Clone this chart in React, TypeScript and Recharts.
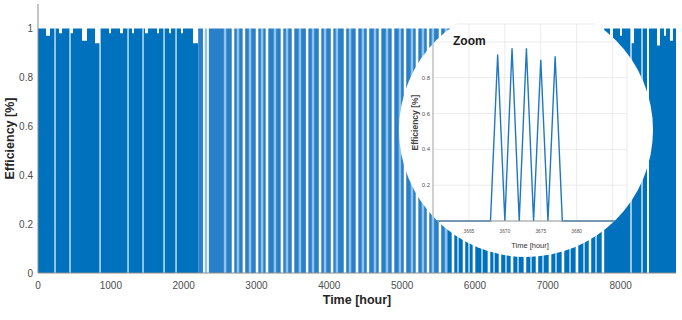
import React from 'react';
import { ComposedChart, Area, LineChart, Line, XAxis, YAxis, CartesianGrid, Label } from 'recharts';

// ---- full-year trace, hours ----
const yearSpan = [0, 8760];
const hourTicks = [0, 1000, 2000, 3000, 4000, 5000, 6000, 7000, 8000];
const effTicks = [0, 0.2, 0.4, 0.6, 0.8, 1];

// short stretches where the peak stays under 1
const dipStart = [110, 288, 439, 604, 783, 975, 1126, 1291, 1469, 1634, 1799, 1963, 2128, 7854, 7991, 8142, 8499, 8595, 8677];
const dipEnd = [165, 330, 481, 673, 851, 1002, 1167, 1318, 1510, 1661, 1826, 1991, 2197, 7895, 8018, 8183, 8540, 8622, 8718];
const dipLevel = [0.97, 0.98, 0.98, 0.95, 0.94, 0.98, 0.98, 0.98, 0.98, 0.98, 0.98, 0.98, 0.94, 0.94, 0.97, 0.94, 0.93, 0.97, 0.95];

// off periods (efficiency 0)
const gapStart = [2265, 2322, 2660, 2810, 2990, 3126, 3332, 3484, 3678, 3855, 4020, 4198, 4362, 4514, 4678, 4856, 5022, 5186, 5338, 5502, 5680, 5832, 5968, 6174, 6326, 6490, 6668, 6834, 7012, 7190, 7382, 7562, 7740, 8362];
const gapEnd = [2290, 2346, 2695, 2845, 3025, 3162, 3368, 3519, 3712, 3890, 4055, 4232, 4398, 4548, 4714, 4892, 5056, 5222, 5372, 5536, 5716, 5866, 6004, 6210, 6360, 6526, 6704, 6868, 7048, 7226, 7418, 7596, 7774, 8389];

// sparse stretches (lighter shade)
const paleStart = [226, 432, 844, 1229, 1435, 1723, 1888, 2290, 2553, 2731, 2896, 3061, 3239, 3404, 3582, 3761, 3926, 4090, 4269, 4447, 4612, 4777, 4955, 5120, 5271, 5408, 5587, 5754, 5905, 6083, 6248, 6413, 6577, 6756, 6921, 7099, 7291, 7483, 7648, 8132, 8283];
const paleEnd = [242, 448, 860, 1245, 1451, 1739, 1904, 2322, 2583, 2761, 2926, 3091, 3269, 3434, 3612, 3791, 3956, 4120, 4299, 4477, 4642, 4807, 4985, 5150, 5301, 5438, 5617, 5780, 5931, 6109, 6274, 6439, 6603, 6782, 6947, 7125, 7317, 7509, 7674, 8152, 8303];

// medium density period
const midStart = [2200];
const midEnd = [5620];

// ---- zoom window ----
const zoomHours = [3660, 3661, 3662, 3663, 3664, 3665, 3666, 3667, 3668, 3669, 3670, 3671, 3672, 3673, 3674, 3675, 3676, 3677, 3678, 3679, 3680, 3681, 3682, 3683, 3684, 3685, 3686, 3687];
const zoomEff = [0, 0, 0, 0, 0, 0, 0, 0, 0, 0.93, 0, 0.965, 0, 0.965, 0, 0.9, 0, 0.92, 0, 0, 0, 0, 0, 0, 0, 0, 0, 0];
const zoomTicks = [3660, 3665, 3670, 3675, 3680, 3685];

const findIn = (h: number, s: number[], e: number[]) => s.findIndex((v, i) => h >= v && h < e[i]);

const cuts = Array.from(
  new Set([...yearSpan, ...dipStart, ...dipEnd, ...gapStart, ...gapEnd, ...paleStart, ...paleEnd, ...midStart, ...midEnd])
).sort((a, b) => a - b);

const yearRows = cuts.map((t, i) => {
  const m = i < cuts.length - 1 ? (t + cuts[i + 1]) / 2 : t - 0.5;
  const d = findIn(m, dipStart, dipEnd);
  const level = d >= 0 ? dipLevel[d] : 1;
  const row = { t, dark: 0, mid: 0, pale: 0 };
  if (findIn(m, gapStart, gapEnd) >= 0) return row;
  if (findIn(m, paleStart, paleEnd) >= 0) row.pale = level;
  else if (findIn(m, midStart, midEnd) >= 0) row.mid = level;
  else row.dark = level;
  return row;
});

const zoomRows = zoomHours.map((h, i) => ({ h, eff: zoomEff[i] }));

const tickStyle = { fontSize: 10, fill: '#4d4d4d' };
const frame = '#8c8c8c';

export default function App() {
  return (
    <div style={{ position: 'absolute', left: 0, top: 0, width: 682, height: 320, background: '#fff', fontFamily: '"Liberation Sans", Arial, sans-serif' }}>
      <ComposedChart width={682} height={320} data={yearRows} margin={{ top: 4, right: 6, bottom: 0, left: 0 }}>
        <XAxis dataKey="t" type="number" domain={[0, 8760]} ticks={hourTicks} interval={0} height={47}
          tickLine={false} tickSize={6} tickMargin={3} axisLine={{ stroke: frame }} tick={tickStyle}>
          <Label value="Time [hour]" position="insideBottom" offset={16} style={{ fontSize: 12.5, fontWeight: 'bold', fill: '#262626' }} />
        </XAxis>
        <XAxis xAxisId="top" orientation="top" type="number" domain={[0, 8760]} ticks={hourTicks} interval={0}
          height={0} mirror tick={false} tickSize={5} tickLine={{ stroke: '#777' }} axisLine={{ stroke: frame }} />
        <YAxis type="number" domain={[0, 1.1]} ticks={effTicks} interval={0} width={38}
          tickLine={false} tickSize={3} tickMargin={2} axisLine={{ stroke: frame }} tick={tickStyle}>
          <Label value="Efficiency [%]" angle={-90} position="insideLeft" offset={10}
            style={{ textAnchor: 'middle', fontSize: 12.5, fontWeight: 'bold', fill: '#262626' }} />
        </YAxis>
        <YAxis yAxisId="right" orientation="right" type="number" domain={[0, 1.1]} ticks={effTicks}
          width={0} mirror tick={false} tickLine={false} axisLine={{ stroke: frame }} />
        <Area type="stepAfter" dataKey="dark" fill="#0072BD" fillOpacity={1} stroke="none" isAnimationActive={false} dot={false} activeDot={false} />
        <Area type="stepAfter" dataKey="mid" fill="#2a80c8" fillOpacity={1} stroke="none" isAnimationActive={false} dot={false} activeDot={false} />
        <Area type="stepAfter" dataKey="pale" fill="#8fc3ea" fillOpacity={1} stroke="none" isAnimationActive={false} dot={false} activeDot={false} />
      </ComposedChart>

      <div style={{ position: 'absolute', left: 399, top: 3, width: 254, height: 254, borderRadius: '50%', overflow: 'hidden', background: '#fff' }}>
        <LineChart width={254} height={254} data={zoomRows} margin={{ top: 21, right: 26, bottom: 0, left: 0 }}>
          <CartesianGrid stroke="#e2e2e2" strokeWidth={0.7} />
          <XAxis dataKey="h" type="number" domain={[3660, 3687]} ticks={zoomTicks} interval={0} height={36}
            tickLine={false} tickSize={4} tickMargin={5} axisLine={{ stroke: '#999' }} tick={{ fontSize: 4.8, fill: '#555' }}>
            <Label value="Time [hour]" position="insideBottom" offset={9.5} style={{ fontSize: 7.5, fill: '#333' }} />
          </XAxis>
          <XAxis xAxisId="top" orientation="top" type="number" domain={[3660, 3687]} height={0} mirror
            tick={false} tickLine={false} axisLine={{ stroke: '#333', strokeWidth: 1.3 }} />
          <YAxis type="number" domain={[0, 1.1]} ticks={effTicks} interval={0} width={34}
            tickLine={false} tickSize={1} tickMargin={2} axisLine={{ stroke: '#aaa' }} tick={{ fontSize: 6, fill: '#555' }}>
            <Label value="Efficiency [%]" angle={-90} position="insideLeft" offset={16}
              style={{ textAnchor: 'middle', fontSize: 8.5, fontWeight: 'bold', fill: '#444' }} />
          </YAxis>
          <YAxis yAxisId="right" orientation="right" type="number" domain={[0, 1.1]} width={0} mirror
            tick={false} tickLine={false} axisLine={{ stroke: '#aaa' }} />
          <Line type="linear" dataKey="eff" stroke="#1f77c4" strokeWidth={1.4} dot={false} activeDot={false} isAnimationActive={false} />
        </LineChart>
        <div style={{ position: 'absolute', left: 54, top: 32, fontSize: 12, lineHeight: '12px', fontWeight: 'bold', color: '#1a1a1a' }}>Zoom</div>
      </div>
    </div>
  );
}
